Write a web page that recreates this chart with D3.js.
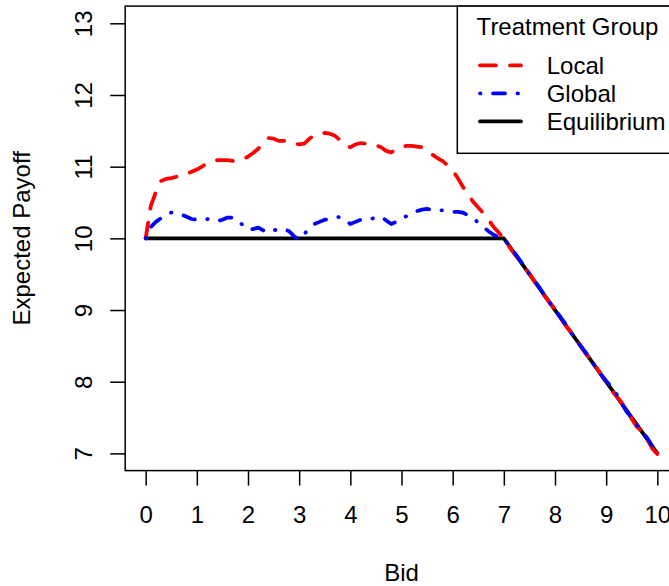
<!DOCTYPE html>
<html>
<head>
<meta charset="utf-8">
<script src="https://cdn.jsdelivr.net/npm/d3@7"></script>
<style>
  body { margin: 0; background: #fff; }
  svg { display: block; font-family: "Liberation Sans", Arial, Helvetica, sans-serif; }
</style>
</head>
<body>
<div id="chart"></div>
<script>
// bids 0..10 in steps of 0.1
var bids = [
  0.0,0.1,0.2,0.3,0.4,0.5,0.6,0.7,0.8,0.9,
  1.0,1.1,1.2,1.3,1.4,1.5,1.6,1.7,1.8,1.9,
  2.0,2.1,2.2,2.3,2.4,2.5,2.6,2.7,2.8,2.9,
  3.0,3.1,3.2,3.3,3.4,3.5,3.6,3.7,3.8,3.9,
  4.0,4.1,4.2,4.3,4.4,4.5,4.6,4.7,4.8,4.9,
  5.0,5.1,5.2,5.3,5.4,5.5,5.6,5.7,5.8,5.9,
  6.0,6.1,6.2,6.3,6.4,6.5,6.6,6.7,6.8,6.9,
  7.0,7.1,7.2,7.3,7.4,7.5,7.6,7.7,7.8,7.9,
  8.0,8.1,8.2,8.3,8.4,8.5,8.6,8.7,8.8,8.9,
  9.0,9.1,9.2,9.3,9.4,9.5,9.6,9.7,9.8,9.9,
  10.0
];

var localPayoff = [
  10.00,10.45,10.65,10.80,10.83,10.84,10.86,10.87,10.90,10.93,
  10.96,11.00,11.05,11.07,11.09,11.09,11.09,11.08,11.08,11.10,
  11.14,11.19,11.25,11.33,11.40,11.39,11.36,11.36,11.35,11.33,
  11.31,11.32,11.39,11.44,11.46,11.47,11.46,11.43,11.37,11.30,
  11.27,11.31,11.33,11.32,11.31,11.30,11.27,11.22,11.20,11.24,
  11.28,11.29,11.29,11.28,11.27,11.22,11.17,11.12,11.08,11.02,
  10.95,10.84,10.72,10.61,10.51,10.43,10.35,10.26,10.16,10.08,
  10.00,9.89,9.79,9.70,9.60,9.51,9.40,9.29,9.19,9.10,
  9.01,8.90,8.79,8.70,8.61,8.50,8.39,8.31,8.21,8.10,
  7.99,7.88,7.80,7.71,7.60,7.48,7.37,7.31,7.20,7.07,
  6.99
];

var globalPayoff = [
  10.00,10.16,10.23,10.28,10.33,10.36,10.35,10.33,10.30,10.27,
  10.26,10.27,10.27,10.26,10.24,10.26,10.29,10.29,10.26,10.18,
  10.12,10.13,10.15,10.11,10.08,10.11,10.13,10.13,10.10,10.03,
  9.98,10.06,10.14,10.20,10.23,10.26,10.27,10.29,10.30,10.26,
  10.20,10.23,10.26,10.27,10.27,10.29,10.30,10.25,10.20,10.23,
  10.28,10.31,10.35,10.38,10.40,10.41,10.40,10.40,10.39,10.38,
  10.37,10.37,10.36,10.32,10.28,10.22,10.16,10.10,10.05,10.02,
  9.99,9.91,9.81,9.71,9.62,9.50,9.41,9.31,9.20,9.10,
  9.00,8.91,8.81,8.70,8.59,8.50,8.41,8.30,8.20,8.10,
  8.01,7.93,7.83,7.70,7.58,7.50,7.40,7.30,7.22,7.10,
  7.02
];

var eqBids = [0, 7, 10];
var eqPayoff = [10, 10, 7];

var xTicks = [0,1,2,3,4,5,6,7,8,9,10];
var yTicks = [7,8,9,10,11,12,13];

var legendLabels = ["Local", "Global", "Equilibrium"];
var legendColors = ["#FF0000", "#0000FF", "#000000"];
var legendDash = ["16,14", "0.5,12.5,12,12.5", null];

var W = 669, H = 586;
var FS = 24;
var fmt = d3.format("d");

var svg = d3.select("#chart").append("svg")
  .attr("width", W)
  .attr("height", H);

// R style 4% axis extension
var x = d3.scaleLinear().domain([-0.4, 10.4]).range([125.2, 677.8]);
var y = d3.scaleLinear().domain([6.76, 13.24]).range([470.6, 6.1]);

// curves
var line = d3.line()
  .x(function(d) { return x(d[0]); })
  .y(function(d) { return y(d[1]); });

var series = [
  { pts: d3.zip(eqBids, eqPayoff), color: legendColors[2], dash: legendDash[2] },
  { pts: d3.zip(bids, localPayoff), color: legendColors[0], dash: legendDash[0] },
  { pts: d3.zip(bids, globalPayoff), color: legendColors[1], dash: legendDash[1] }
];

svg.selectAll("path.curve")
  .data(series)
  .enter().append("path")
  .attr("class", "curve")
  .attr("d", function(d) { return line(d.pts); })
  .attr("fill", "none")
  .attr("stroke", function(d) { return d.color; })
  .attr("stroke-width", 3.75)
  .attr("stroke-linecap", "round")
  .attr("stroke-linejoin", "round")
  .attr("stroke-dasharray", function(d) { return d.dash; });

// plot box
svg.append("rect")
  .attr("x", x(-0.4))
  .attr("y", y(13.24))
  .attr("width", x(10.4) - x(-0.4))
  .attr("height", y(6.76) - y(13.24))
  .attr("fill", "none")
  .attr("stroke", "#000")
  .attr("stroke-width", 1.5);

// x axis
var gx = svg.append("g")
  .attr("transform", "translate(0," + y(6.76) + ")")
  .call(d3.axisBottom(x).tickValues(xTicks).tickFormat(fmt).tickSize(15).tickPadding(0).tickSizeOuter(0));
gx.select(".domain").remove();
gx.selectAll(".tick line").attr("stroke", "#000").attr("stroke-width", 1.5);
gx.selectAll(".tick text")
  .attr("y", 52.7)
  .attr("dy", null)
  .attr("fill", "#000")
  .style("font-size", FS + "px")
  .style("font-family", "'Liberation Sans', Arial, Helvetica, sans-serif");

// y axis
var gy = svg.append("g")
  .attr("transform", "translate(" + x(-0.4) + ",0)")
  .call(d3.axisLeft(y).tickValues(yTicks).tickFormat(fmt).tickSize(15).tickPadding(0).tickSizeOuter(0));
gy.select(".domain").remove();
gy.selectAll(".tick line").attr("stroke", "#000").attr("stroke-width", 1.5);
gy.selectAll(".tick text")
  .attr("transform", "rotate(-90)")
  .attr("x", 0)
  .attr("y", -33)
  .attr("dy", null)
  .attr("text-anchor", "middle")
  .attr("fill", "#000")
  .style("font-size", FS + "px")
  .style("font-family", "'Liberation Sans', Arial, Helvetica, sans-serif");

// axis titles
svg.append("text")
  .attr("x", (x(-0.4) + x(10.4)) / 2)
  .attr("y", 581)
  .attr("text-anchor", "middle")
  .style("font-size", FS + "px")
  .text("Bid");

svg.append("text")
  .attr("transform", "translate(30," + (y(6.76) + y(13.24)) / 2 + ") rotate(-90)")
  .attr("text-anchor", "middle")
  .style("font-size", FS + "px")
  .text("Expected Payoff");

// legend
var lg = svg.append("g");
var lgLeft = 457.3, lgTop = y(13.24), lgBottom = 153.3, lgRight = x(10.4);

lg.append("rect")
  .attr("x", lgLeft)
  .attr("y", lgTop)
  .attr("width", lgRight - lgLeft)
  .attr("height", lgBottom - lgTop)
  .attr("fill", "#fff")
  .attr("stroke", "#000")
  .attr("stroke-width", 1.5);

lg.append("text")
  .attr("x", (lgLeft + lgRight) / 2)
  .attr("y", 35)
  .attr("text-anchor", "middle")
  .style("font-size", FS + "px")
  .text("Treatment Group");

var baselines = [74, 102, 130];

var items = lg.selectAll("g.item")
  .data(legendLabels)
  .enter().append("g")
  .attr("class", "item");

items.append("line")
  .attr("x1", 480)
  .attr("x2", 521)
  .attr("y1", function(d, i) { return baselines[i] - 8.6; })
  .attr("y2", function(d, i) { return baselines[i] - 8.6; })
  .attr("stroke", function(d, i) { return legendColors[i]; })
  .attr("stroke-width", 3.75)
  .attr("stroke-linecap", "round")
  .attr("stroke-dasharray", function(d, i) { return legendDash[i]; });

items.append("text")
  .attr("x", 546.7)
  .attr("y", function(d, i) { return baselines[i]; })
  .style("font-size", FS + "px")
  .text(function(d) { return d; });
</script>
</body>
</html>
